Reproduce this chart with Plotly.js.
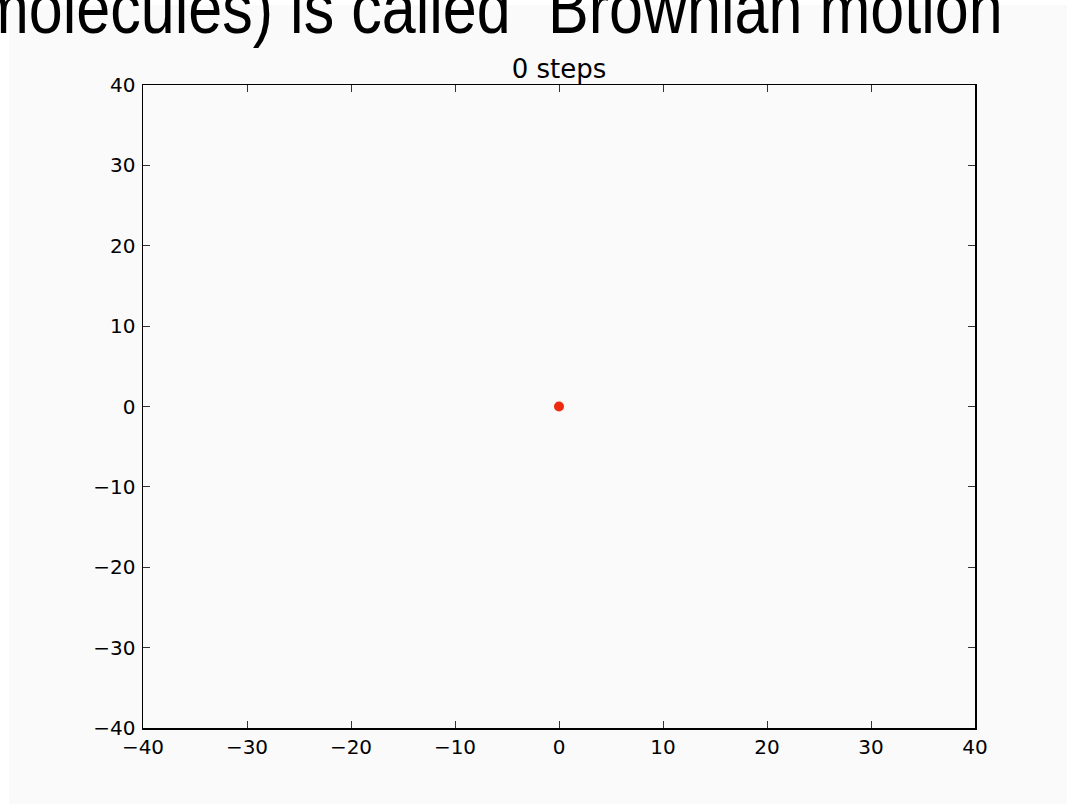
<!DOCTYPE html>
<html>
<head>
<meta charset="utf-8">
<script src="https://cdn.plot.ly/plotly-3.0.1.min.js"></script>
<style>
  html, body { margin: 0; padding: 0; background: #ffffff; }
  #chart { width: 1067px; height: 804px; }
</style>
</head>
<body>
<div id="chart"></div>
<script>
// Data
var stepCount = 0;
var particleX = [0];
var particleY = [0];
var xTickValues = [-40, -30, -20, -10, 0, 10, 20, 30, 40];
var yTickValues = [-40, -30, -20, -10, 0, 10, 20, 30, 40];
var axisRange = [-40, 40];
var headerText = 'molecules) is called \u201cBrownian motion\u201d';

var W = 1067, H = 804;
var L = 143, R = 975, T = 85, B = 728;
function px2x(p) { return (p - L) / (R - L); }
function px2y(p) { return (B - p) / (B - T); }

// header text is a condensed face: squeeze it horizontally to this width
var HEADER_LEFT = -22, HEADER_WIDTH = 1045;

var trace = {
  x: particleX,
  y: particleY,
  type: 'scatter',
  mode: 'markers',
  marker: { color: '#ee2a10', size: 10, line: { width: 0 } },
  hoverinfo: 'x+y',
  showlegend: false
};

var axisCommon = {
  range: axisRange,
  showgrid: false,
  zeroline: false,
  showline: true,
  linecolor: '#000000',
  linewidth: 1.5,
  mirror: 'ticks',
  ticks: 'inside',
  ticklen: 7,
  tickwidth: 1,
  tickcolor: '#333333',
  tickfont: { family: 'DejaVu Sans', size: 20, color: '#000000' },
  fixedrange: true
};

var layout = {
  width: W,
  height: H,
  margin: { l: L, r: W - R, t: T, b: H - B, pad: 0 },
  paper_bgcolor: '#ffffff',
  plot_bgcolor: 'rgba(0,0,0,0)',
  title: {
    text: stepCount + ' steps',
    font: { family: 'DejaVu Sans', size: 26, color: '#000000' },
    x: 0.5, xref: 'paper', xanchor: 'center',
    y: 1 - 78 / H, yref: 'container', yanchor: 'bottom'
  },
  xaxis: Object.assign({}, axisCommon, {
    tickvals: xTickValues,
    ticklabelstandoff: 0
  }),
  yaxis: Object.assign({}, axisCommon, {
    tickvals: yTickValues,
    ticklabelstandoff: 2
  }),
  shapes: [{
    type: 'rect', layer: 'below',
    xref: 'paper', yref: 'paper',
    x0: px2x(9), x1: px2x(W + 5),
    y0: px2y(H + 5), y1: px2y(5),
    fillcolor: '#fafafa', line: { width: 0 }
  }],
  annotations: [{
    text: headerText,
    xref: 'paper', yref: 'paper',
    x: px2x(HEADER_LEFT), xanchor: 'left',
    y: px2y(8), yanchor: 'middle',
    showarrow: false,
    font: { family: 'Liberation Sans, Arial, sans-serif', size: 73, color: '#000000' }
  }]
};

Plotly.newPlot('chart', [trace], layout, { displayModeBar: false, staticPlot: true }).then(function (gd) {
  var t = gd.querySelector('text.annotation-text');
  if (!t) return;
  t.setAttribute('textLength', HEADER_WIDTH);
  t.setAttribute('lengthAdjust', 'spacingAndGlyphs');
  var r = t.getBoundingClientRect();
  var cr = gd.getBoundingClientRect();
  var dx = HEADER_LEFT - (r.left - cr.left);
  t.setAttribute('transform', 'translate(' + dx + ',0)');
});
</script>
</body>
</html>
